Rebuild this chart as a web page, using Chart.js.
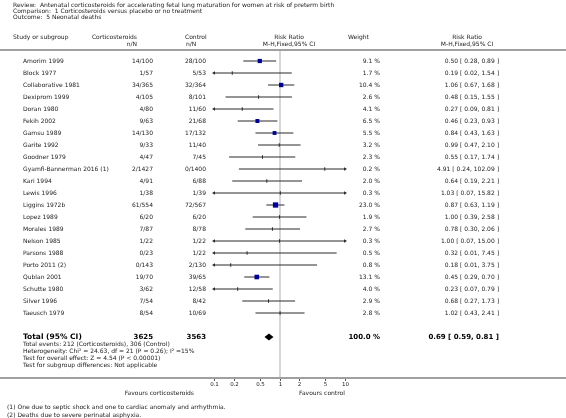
<!DOCTYPE html>
<html>
<head>
<meta charset="utf-8">
<script src="https://cdn.jsdelivr.net/npm/chart.js@4"></script>
<style>
  body { margin: 0; background: #fff; }
  canvas { display: block; }
</style>
</head>
<body>
<canvas id="myChart" width="566" height="418"></canvas>
<script>
/* global Chart */

// study rows
let studies = [
  "Amorim 1999", "Block 1977", "Collaborative 1981", "Dexiprom 1999", "Doran 1980",
  "Fekih 2002", "Gamsu 1989", "Garite 1992", "Goodner 1979", "Gyamfi-Bannerman 2016 (1)",
  "Kari 1994", "Lewis 1996", "Liggins 1972b", "Lopez 1989", "Morales 1989",
  "Nelson 1985", "Parsons 1988", "Porto 2011 (2)", "Qublan 2001", "Schutte 1980",
  "Silver 1996", "Taeusch 1979"
];
let corticoEvents = [
  "14/100", "1/57", "34/365", "4/105", "4/80", "9/63", "14/130", "9/33", "4/47", "2/1427",
  "4/91", "1/38", "61/554", "6/20", "7/87", "1/22", "0/23", "0/143", "19/70", "3/62",
  "7/54", "8/54"
];
let controlEvents = [
  "28/100", "5/53", "32/364", "8/101", "11/60", "21/68", "17/132", "11/40", "7/45", "0/1400",
  "6/88", "1/39", "72/567", "6/20", "8/78", "1/22", "1/22", "2/130", "39/65", "12/58",
  "8/42", "10/69"
];
let weights = [9.1, 1.7, 10.4, 2.6, 4.1, 6.5, 5.5, 3.2, 2.3, 0.2, 2.0, 0.3, 23.0, 1.9, 2.7, 0.3, 0.5, 0.8, 13.1, 4.0, 2.9, 2.8];
let riskRatio = [0.50, 0.19, 1.06, 0.48, 0.27, 0.46, 0.84, 0.99, 0.55, 4.91, 0.64, 1.03, 0.87, 1.00, 0.78, 1.00, 0.32, 0.18, 0.45, 0.23, 0.68, 1.02];
let ciLow = [0.28, 0.02, 0.67, 0.15, 0.09, 0.23, 0.43, 0.47, 0.17, 0.24, 0.19, 0.07, 0.63, 0.39, 0.30, 0.07, 0.01, 0.01, 0.29, 0.07, 0.27, 0.43];
let ciHigh = [0.89, 1.54, 1.68, 1.55, 0.81, 0.93, 1.63, 2.10, 1.74, 102.09, 2.21, 15.82, 1.19, 2.58, 2.06, 15.00, 7.45, 3.75, 0.70, 0.79, 1.73, 2.41];

// pooled result
let totalLabel = "Total (95% CI)";
let totalN = [3625, 3563];
let totalWeight = 100.0;
let totalRR = [0.69, 0.59, 0.81]; // estimate, low, high

let xTicks = [0.1, 0.2, 0.5, 1, 2, 5, 10];
let xMin = 0.1;
let xMax = 10;

let headerLines = [
  "Review:  Antenatal corticosteroids for accelerating fetal lung maturation for women at risk of preterm birth",
  "Comparison:  1 Corticosteroids versus placebo or no treatment",
  "Outcome:  5 Neonatal deaths"
];
let summaryLines = [
  "Total events: 212 (Corticosteroids), 306 (Control)",
  "Heterogeneity: Chi\u00b2 = 24.63, df = 21 (P = 0.26); I\u00b2 =15%",
  "Test for overall effect: Z = 4.54 (P < 0.00001)",
  "Test for subgroup differences: Not applicable"
];
let footnotes = [
  "(1) One due to septic shock and one to cardiac anomaly and arrhythmia.",
  "(2) Deaths due to severe perinatal asphyxia."
];

const FONT = "'DejaVu Sans', sans-serif";
const TOTAL_ROW = studies.length + 1;

function rrText(rr, lo, hi) {
  return rr.toFixed(2) + " [ " + lo.toFixed(2) + ", " + hi.toFixed(2) + " ]";
}

// CI line per study
let ciSets = studies.map(function (s, i) {
  return {
    type: "scatter",
    showLine: true,
    data: [{ x: ciLow[i], y: i }, { x: ciHigh[i], y: i }],
    borderColor: "#2a2a2a",
    borderWidth: 1,
    pointRadius: 0,
    order: 3,
  };
});

// arrow heads where the CI runs past the axis
let arrows = [];
studies.forEach(function (s, i) {
  if (ciLow[i] < xMin) arrows.push({ x: xMin, y: i, rot: 270 });
  if (ciHigh[i] > xMax) arrows.push({ x: xMax, y: i, rot: 90 });
});

let points = studies.map(function (s, i) {
  return { x: riskRatio[i], y: i, w: weights[i] };
});

const forestPlugin = {
  id: "forestPlugin",
  beforeDatasetsDraw(chart) {
    const ctx = chart.ctx;
    const x = chart.scales.x;
    ctx.save();
    // header rule and axis rule
    ctx.fillStyle = "#a0a0a0";
    ctx.fillRect(0, 49, 566, 2);
    ctx.fillRect(0, 377, 566, 2);
    // line of no effect
    ctx.fillStyle = "#d6d6d6";
    ctx.fillRect(Math.round(x.getPixelForValue(1)) - 1, 51, 2, 326);
    ctx.restore();
  },
  afterDatasetsDraw(chart) {
    const ctx = chart.ctx;
    const x = chart.scales.x;
    const y = chart.scales.y;
    // diamond for the pooled estimate
    const cy = y.getPixelForValue(TOTAL_ROW);
    ctx.save();
    ctx.fillStyle = "#000";
    ctx.beginPath();
    ctx.moveTo(x.getPixelForValue(totalRR[1]), cy);
    ctx.lineTo(x.getPixelForValue(totalRR[0]), cy - 3.5);
    ctx.lineTo(x.getPixelForValue(totalRR[2]), cy);
    ctx.lineTo(x.getPixelForValue(totalRR[0]), cy + 3.5);
    ctx.closePath();
    ctx.fill();
    ctx.restore();
  },
  afterDraw(chart) {
    const ctx = chart.ctx;
    const x = chart.scales.x;
    const y = chart.scales.y;
    ctx.save();
    ctx.fillStyle = "#222";
    ctx.textBaseline = "middle";
    ctx.font = "6px " + FONT;

    function put(t, px, py, align) {
      ctx.textAlign = align || "left";
      ctx.fillText(t, px, py);
    }

    headerLines.forEach(function (t, i) { put(t, 13, 5.5 + i * 6); });

    put("Study or subgroup", 13, 37);
    put("Corticosteroids", 137, 37, "right");
    put("n/N", 137, 44, "right");
    put("Control", 185, 37);
    put("n/N", 186, 44);
    put("Risk Ratio", 289, 37, "center");
    put("M-H,Fixed,95% CI", 289, 44, "center");
    put("Weight", 348, 37);
    put("Risk Ratio", 467, 37, "center");
    put("M-H,Fixed,95% CI", 467, 44, "center");

    studies.forEach(function (s, i) {
      const py = y.getPixelForValue(i);
      put(s, 23, py);
      put(corticoEvents[i], 153, py, "right");
      put(controlEvents[i], 206, py, "right");
      put(weights[i].toFixed(1) + " %", 380, py, "right");
      put(rrText(riskRatio[i], ciLow[i], ciHigh[i]), 499, py, "right");
    });

    const ty = y.getPixelForValue(TOTAL_ROW);
    ctx.fillStyle = "#000";
    ctx.font = "bold 7.5px " + FONT;
    put(totalLabel, 23, ty);
    ctx.font = "bold 7px " + FONT;
    put(String(totalN[0]), 153, ty, "right");
    put(String(totalN[1]), 206, ty, "right");
    put(totalWeight.toFixed(1) + " %", 380, ty, "right");
    put(rrText(totalRR[0], totalRR[1], totalRR[2]), 499, ty, "right");

    ctx.fillStyle = "#222";
    ctx.font = "6px " + FONT;
    summaryLines.forEach(function (t, i) { put(t, 23, ty + 7 + i * 7); });

    // axis ticks and labels
    ctx.strokeStyle = "#555";
    ctx.lineWidth = 1;
    ctx.font = "5.5px " + FONT;
    xTicks.forEach(function (v) {
      const px = Math.round(x.getPixelForValue(v)) + 0.5;
      ctx.beginPath();
      ctx.moveTo(px, 379);
      ctx.lineTo(px, 381);
      ctx.stroke();
      put(String(v), px, 385, "center");
    });
    ctx.font = "6px " + FONT;
    put("Favours corticosteroids", 194, 393, "right");
    put("Favours control", 299, 393);

    footnotes.forEach(function (t, i) { put(t, 7, 407 + i * 8); });
    ctx.restore();
  },
};

const ctx = document.getElementById("myChart");
const myChart = new Chart(ctx, {
  type: "scatter",
  data: {
    datasets: ciSets.concat([
      {
        data: arrows,
        pointStyle: "triangle",
        pointRadius: 2,
        pointRotation: function (c) { return c.raw ? c.raw.rot : 0; },
        backgroundColor: "#2a2a2a",
        borderColor: "#2a2a2a",
        borderWidth: 0,
        clip: false,
        order: 2,
      },
      {
        data: points,
        pointStyle: function (c) { return c.raw && c.raw.w >= 5 ? "rect" : "line"; },
        pointRotation: function (c) { return c.raw && c.raw.w >= 5 ? 0 : 90; },
        pointRadius: function (c) {
          if (!c.raw) return 0;
          return c.raw.w >= 5 ? (2 + 0.6 * Math.sqrt(c.raw.w)) / Math.SQRT2 + 0.3 : 1.75;
        },
        backgroundColor: "#00009c",
        borderColor: function (c) { return c.raw && c.raw.w >= 5 ? "#00009c" : "#2a2a2a"; },
        borderWidth: function (c) { return c.raw && c.raw.w >= 5 ? 0 : 1; },
        clip: false,
        order: 1,
      },
    ]),
  },
  plugins: [forestPlugin],
  options: {
    responsive: false,
    animation: false,
    events: [],
    layout: {
      padding: { left: 214, right: 221, top: 50, bottom: 40 },
    },
    plugins: {
      legend: { display: false },
      tooltip: { enabled: false },
    },
    scales: {
      x: {
        type: "logarithmic",
        min: xMin,
        max: xMax,
        display: false,
      },
      y: {
        type: "linear",
        reverse: true,
        min: -11 / 12,
        max: 317 / 12,
        display: false,
      },
    },
  },
});
</script>
</body>
</html>
